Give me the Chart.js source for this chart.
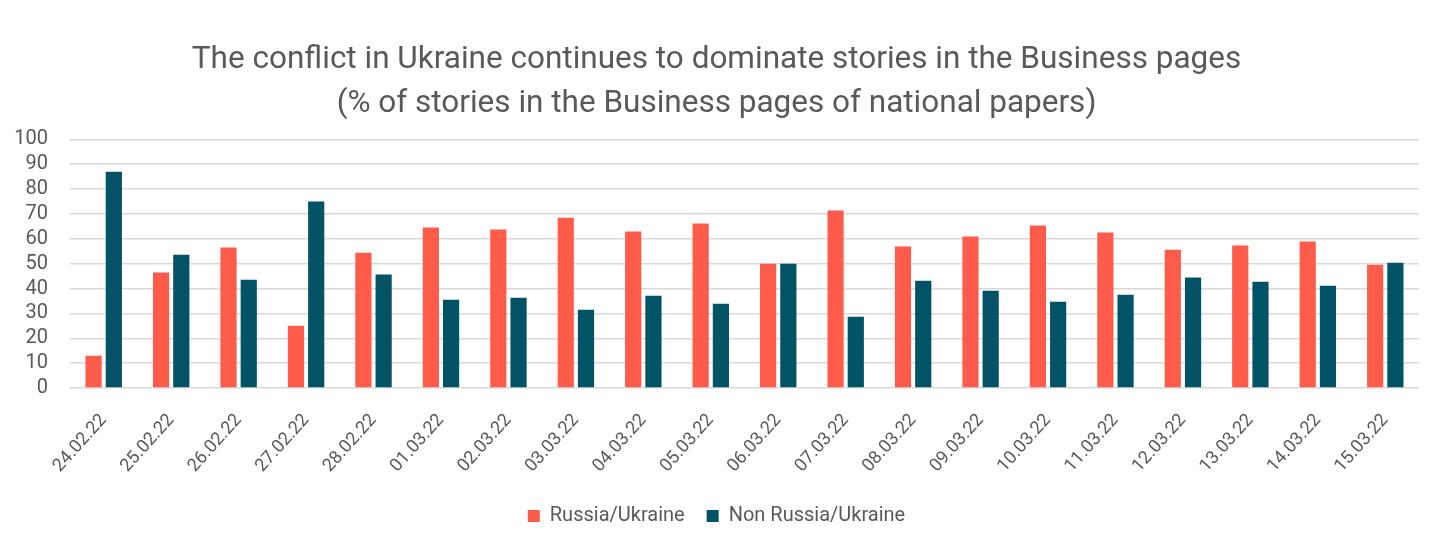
<!DOCTYPE html>
<html>
<head>
<meta charset="utf-8">
<script src="https://cdn.jsdelivr.net/npm/chart.js@4/dist/chart.umd.min.js"></script>
<style>
  html, body { margin: 0; padding: 0; background: #fff; }
  #wrap { width: 1439px; height: 550px; position: relative; }
</style>
</head>
<body>
<div id="wrap"><canvas id="chart"></canvas></div>
<script>
const FONT = "Roboto, 'Liberation Sans', sans-serif";
const TEXT_COLOR = "#595959";

const dates = ["24.02.22", "25.02.22", "26.02.22", "27.02.22", "28.02.22", "01.03.22", "02.03.22",
    "03.03.22", "04.03.22", "05.03.22", "06.03.22", "07.03.22", "08.03.22", "09.03.22", "10.03.22",
    "11.03.22", "12.03.22", "13.03.22", "14.03.22", "15.03.22"];
const russiaUkraine = [13, 46.4, 56.5, 25, 54.4, 64.5, 63.7, 68.5, 62.9, 66.1, 50, 71.4, 56.9,
    60.9, 65.3, 62.5, 55.6, 57.3, 58.9, 49.6];
const nonRussiaUkraine = [87, 53.6, 43.5, 75, 45.6, 35.5, 36.3, 31.5, 37.1, 33.9, 50, 28.6, 43.1,
    39.1, 34.7, 37.5, 44.4, 42.7, 41.1, 50.4];
const yTicks = [0, 10, 20, 30, 40, 50, 60, 70, 80, 90, 100];

const config = {
    type: "bar",
    data: {
        labels: dates,
        datasets: [
            {
                label: "Russia/Ukraine",
                data: russiaUkraine,
                backgroundColor: "#FF5B4A",
                barPercentage: 0.8,
                categoryPercentage: 0.6,
            },
            {
                label: "Non Russia/Ukraine",
                data: nonRussiaUkraine,
                backgroundColor: "#025366",
                barPercentage: 0.8,
                categoryPercentage: 0.6,
            },
        ],
    },
    options: {
        responsive: false,
        animation: false,
        layout: { padding: { left: 14, right: 20, top: 10, bottom: 14 } },
        plugins: {
            title: {
                display: true,
                text: [
                    "The conflict in Ukraine continues to dominate stories in the Business pages",
                    "(% of stories in the Business pages of national papers)",
                ],
                color: TEXT_COLOR,
                font: { family: FONT, size: 31.5, weight: "normal", lineHeight: 1.37 },
                padding: { top: 29, bottom: 14 },
            },
            legend: {
                position: "bottom",
                labels: {
                    color: TEXT_COLOR,
                    font: { family: FONT, size: 20 },
                    boxWidth: 12,
                    boxHeight: 12,
                    padding: 22,
                },
            },
            tooltip: { enabled: false },
        },
        scales: {
            x: {
                grid: { display: false },
                border: { display: false },
                ticks: {
                    color: TEXT_COLOR,
                    font: { family: FONT, size: 18 },
                    maxRotation: 48,
                    minRotation: 48,
                    padding: 14,
                },
                afterFit: (axis) => {
                    axis.paddingLeft = 0;
                    axis.height = 96;
                },
            },
            y: {
                min: 0,
                max: 100,
                afterBuildTicks: (axis) => {
                    axis.ticks = yTicks.map((v) => ({ value: v }));
                },
                afterFit: (axis) => {
                    axis.width = 56;
                },
                grid: { color: "#d9d9d9", lineWidth: 1.5, drawTicks: false },
                border: { display: false },
                ticks: {
                    color: TEXT_COLOR,
                    font: { family: FONT, size: 20 },
                    padding: 22,
                    autoSkip: false,
                },
            },
        },
    },
};

const canvas = document.getElementById("chart");
canvas.width = 1439;
canvas.height = 550;
new Chart(canvas.getContext("2d"), config);
</script>
</body>
</html>
